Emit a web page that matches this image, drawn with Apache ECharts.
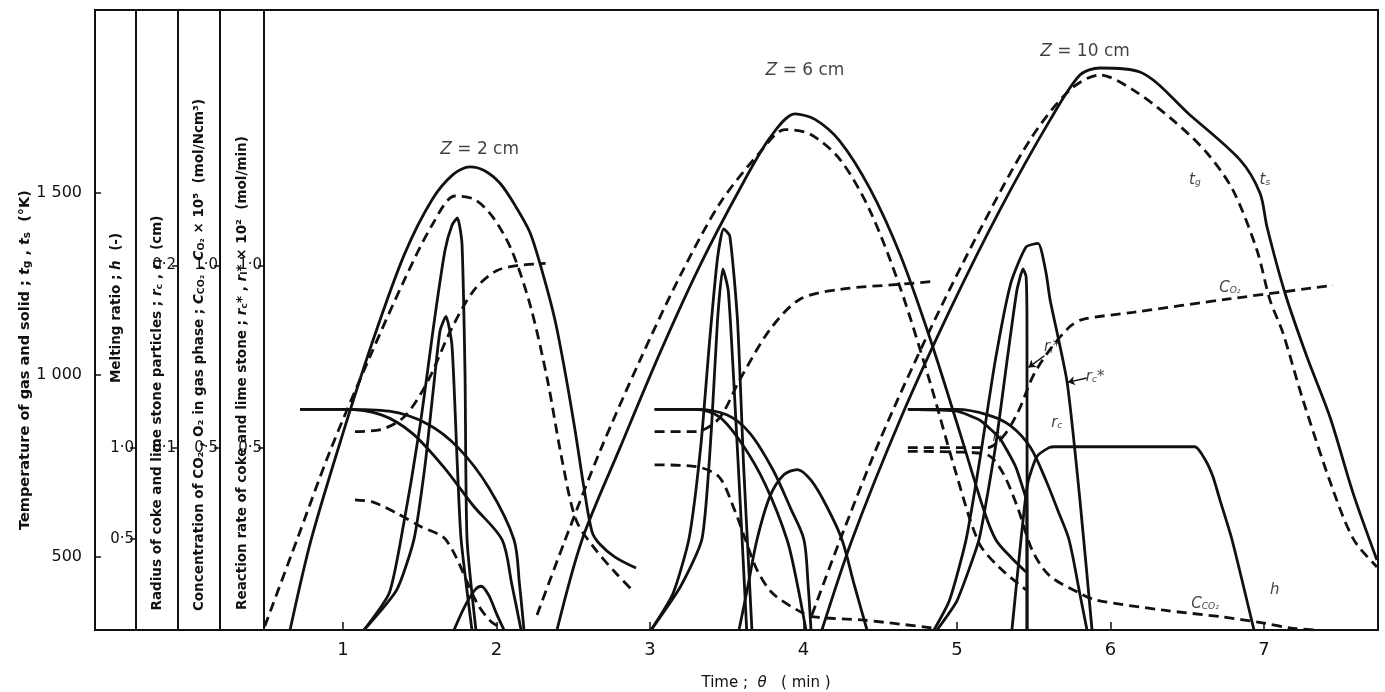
<!DOCTYPE html>
<html>
<head>
<meta charset="utf-8">
<script src="https://cdn.jsdelivr.net/npm/echarts/dist/echarts.min.js"></script>
<style>
html, body { margin: 0; padding: 0; background: #fff; }
#chart { width: 1385px; height: 692px; }
</style>
</head>
<body>
<div id="chart"></div>
<script>
// ticks
var timeTicks = [1, 2, 3, 4, 5, 6, 7];
var tempTicks = [500, 1000, 1500];
var hTicks = [0.5, 1.0];
var rTicks = [0.1, 0.2];
var cTicks = [0.5, 1.0];
var rateTicks = [0.5, 1.0];

// temperature of solid / gas (K), [time min, value]
var ts2 = [[0.655,300],[0.792,547],[1.00,840],[1.20,1100],[1.40,1330],[1.58,1480],[1.72,1550],[1.827,1570],[1.92,1560],[2.023,1525],[2.12,1465],[2.218,1390],[2.30,1280],[2.381,1150],[2.45,1000],[2.511,850],[2.57,690],[2.622,570],[2.674,535],[2.772,500],[2.909,470]];
var tg2 = [[0.49,310],[0.70,547],[0.915,790],[1.176,1050],[1.40,1260],[1.58,1410],[1.73,1490],[1.86,1480],[1.98,1430],[2.10,1340],[2.22,1190],[2.33,990],[2.43,760],[2.52,600],[2.648,519],[2.78,455],[2.896,404]];
var ts6 = [[2.394,300],[2.557,547],[2.805,800],[3.065,1060],[3.326,1300],[3.586,1510],[3.782,1650],[3.945,1715],[4.075,1700],[4.238,1640],[4.433,1510],[4.629,1330],[4.824,1100],[5.020,840],[5.182,620],[5.254,547],[5.35,500],[5.450,459]];
var tg6 = [[2.264,341],[2.440,539],[2.674,790],[2.935,1040],[3.195,1270],[3.456,1470],[3.717,1610],[3.880,1672],[4.042,1660],[4.238,1590],[4.433,1450],[4.629,1240],[4.824,980],[4.987,740],[5.143,539],[5.280,470],[5.450,410]];
var ts10 = [[4.120,300],[4.316,547],[4.629,876],[4.954,1177],[5.280,1452],[5.606,1698],[5.801,1822],[5.932,1841],[6.192,1830],[6.518,1712],[6.844,1589],[6.974,1498],[7.020,1405],[7.137,1224],[7.280,1049],[7.430,884],[7.580,676],[7.736,492]];
var tg10 = [[4.055,341],[4.231,539],[4.498,821],[4.824,1123],[5.150,1397],[5.476,1644],[5.736,1781],[5.932,1822],[6.147,1781],[6.407,1698],[6.629,1608],[6.798,1506],[6.954,1342],[7.039,1205],[7.124,1114],[7.254,931],[7.450,684],[7.586,547],[7.736,473]];

// O2 / CO2 concentration (x10^5 mol/Ncm3)
var cO2_2 = [[1.078,0.544],[1.25,0.55],[1.40,0.585],[1.55,0.68],[1.70,0.82],[1.85,0.93],[2.0,0.985],[2.15,1.0],[2.32,1.005]];
var cCO2_2 = [[1.078,0.357],[1.20,0.35],[1.35,0.32],[1.50,0.285],[1.671,0.247],[1.873,0.074],[1.96,0.025],[2.05,0]];
var cO2_6 = [[3.03,0.544],[3.30,0.544],[3.45,0.58],[3.586,0.687],[3.782,0.824],[3.977,0.907],[4.238,0.934],[4.629,0.948],[4.85,0.956]];
var cCO2_6 = [[3.03,0.453],[3.30,0.448],[3.45,0.42],[3.55,0.33],[3.62,0.25],[3.697,0.165],[3.80,0.10],[3.984,0.049],[4.068,0.036],[4.394,0.027],[4.850,0.005]];
var cO2_10 = [[4.68,0.50],[5.0,0.50],[5.2,0.50],[5.30,0.53],[5.40,0.60],[5.50,0.70],[5.606,0.769],[5.736,0.832],[5.821,0.852],[6.147,0.871],[6.759,0.907],[7.45,0.945]];
var cCO2_10 = [[4.68,0.49],[5.0,0.488],[5.2,0.48],[5.30,0.43],[5.40,0.33],[5.489,0.22],[5.60,0.15],[5.795,0.102],[5.906,0.082],[6.336,0.055],[6.726,0.036],[7.0,0.019],[7.176,0.005],[7.35,0]];

// particle radius (cm)
var rc2 = [[0.72,0.121],[1.0,0.121],[1.3,0.120],[1.55,0.113],[1.75,0.100],[1.95,0.078],[2.114,0.0495],[2.15,0.025],[2.179,0]];
var rl2 = [[0.72,0.121],[1.0,0.121],[1.25,0.118],[1.45,0.108],[1.65,0.090],[1.85,0.068],[2.036,0.0495],[2.10,0.025],[2.16,0]];
var rc6 = [[3.03,0.121],[3.30,0.121],[3.50,0.118],[3.65,0.108],[3.80,0.088],[3.92,0.066],[4.003,0.0495],[4.03,0.025],[4.049,0]];
var rl6 = [[3.03,0.121],[3.30,0.121],[3.45,0.117],[3.60,0.102],[3.75,0.080],[3.893,0.0495],[3.96,0.025],[4.016,0]];
var rc10 = [[4.68,0.121],[5.0,0.121],[5.2,0.118],[5.35,0.112],[5.48,0.100],[5.58,0.082],[5.66,0.065],[5.730,0.0495],[5.80,0.02],[5.847,0]];
var rl10 = [[4.68,0.121],[5.0,0.12],[5.15,0.115],[5.28,0.105],[5.38,0.090],[5.44,0.075],[5.455,0.07],[5.456,0]];

// reaction rate (x10^2 mol/min)
var rcs2 = [[1.137,0],[1.30,0.10],[1.378,0.25],[1.502,0.56],[1.599,0.86],[1.664,1.04],[1.710,1.11],[1.745,1.13],[1.775,1.06],[1.795,0.70],[1.808,0.25],[1.866,0]];
var rls2 = [[1.137,0],[1.35,0.11],[1.463,0.25],[1.534,0.45],[1.586,0.65],[1.632,0.82],[1.671,0.86],[1.710,0.78],[1.745,0.45],[1.769,0.25],[1.840,0]];
var rcs6 = [[3.007,0],[3.15,0.10],[3.254,0.25],[3.33,0.50],[3.39,0.80],[3.44,1.02],[3.48,1.10],[3.52,1.08],[3.57,0.85],[3.61,0.45],[3.64,0.20],[3.664,0]];
var rls6 = [[3.007,0],[3.20,0.12],[3.339,0.25],[3.40,0.55],[3.44,0.85],[3.475,0.99],[3.51,0.93],[3.55,0.65],[3.60,0.25],[3.63,0]];
var rcs10 = [[4.85,0],[4.95,0.08],[5.059,0.247],[5.15,0.47],[5.25,0.74],[5.35,0.95],[5.45,1.05],[5.528,1.06],[5.58,0.98],[5.606,0.907],[5.717,0.681],[5.801,0.357],[5.880,0]];
var rls10 = [[4.87,0],[5.0,0.08],[5.143,0.247],[5.25,0.50],[5.33,0.75],[5.39,0.93],[5.43,0.99],[5.45,0.97],[5.456,0.85],[5.457,0]];

// melting ratio (-)
var h2 = [[1.723,0],[1.80,0.14],[1.86,0.22],[1.90,0.24],[1.95,0.19],[2.00,0.09],[2.049,0]];
var h6 = [[3.580,0],[3.64,0.25],[3.697,0.495],[3.78,0.73],[3.87,0.85],[3.96,0.88],[4.05,0.82],[4.15,0.68],[4.251,0.495],[4.33,0.25],[4.414,0]];
var h10 = [[5.358,0],[5.417,0.495],[5.46,0.80],[5.52,0.95],[5.60,1.0],[5.638,1.005],[6.55,1.005],[6.62,0.93],[6.668,0.84],[6.713,0.714],[6.792,0.495],[6.935,0]];

// text placed on the temperature scale: [time, K, text]
var zLabels = [[1.89,1616,'{z|Z} = 2 cm'],[4.01,1835,'{z|Z} = 6 cm'],[5.834,1885,'{z|Z} = 10 cm']];
var curveLabels = [[6.55,1534,'{i|t}{s|g}'],[7.006,1534,'{i|t}{s|s}'],[6.778,1238,'{i|C}{s|O₂}'],
  [5.90,994,'{i|r}{s|c}{i|*}'],[5.62,1075,'{i|r}{s|l}{i|*}'],[5.26,830,'{i|r}{s|l}'],[5.65,868,'{i|r}{s|c}'],
  [6.616,371,'{i|C}{s|CO₂}'],[7.07,410,'{i|h}']];
var labelArrows = [[[5.845,991],[5.722,979]], [[5.57,1052],[5.466,1020]]];

var INK = '#111';
var FONT = 'DejaVu Sans';

function curve(data, axis, dashed, smooth) {
  return {
    type: 'line', data: data, yAxisIndex: axis, smooth: smooth == null ? 0.3 : smooth, symbol: 'none',
    silent: true, animation: false,
    lineStyle: { color: INK, width: 2.8, type: dashed ? [10, 6] : 'solid' }
  };
}
function dotLabel(v) { return v.toFixed(1).replace('.', '·'); }

function stripAxis(offset, max, ticks) {
  return {
    type: 'value', position: 'left', offset: offset, min: 0, max: max,
    splitLine: { show: false },
    axisLine: { show: true, lineStyle: { color: INK, width: 2 } },
    axisTick: { show: true, customValues: ticks, length: 6, lineStyle: { color: INK, width: 1.5 } },
    axisLabel: { customValues: ticks, color: INK, fontFamily: FONT, fontSize: 15, margin: 2, formatter: dotLabel }
  };
}

var sub = { fontSize: 9, fontFamily: FONT, fontStyle: 'italic', padding: [6, 0, 0, 0] };
var it = { fontStyle: 'italic', fontFamily: FONT, fontSize: 15 };
function rotText(x, y, text, size) {
  return {
    type: 'text', x: x, y: y, rotation: Math.PI / 2, silent: true,
    style: {
      text: text, fill: INK, font: 'bold ' + size + 'px "DejaVu Sans"', align: 'center', verticalAlign: 'middle',
      rich: {
        i: { fontStyle: 'italic', fontWeight: 'bold', fontSize: size, fontFamily: FONT },
        s: { fontSize: size - 4, fontWeight: 'bold', fontFamily: FONT, padding: [5, 0, 0, 0] }
      }
    }
  };
}

var chart = echarts.init(document.getElementById('chart'));
chart.setOption({
  backgroundColor: '#fff',
  animation: false,
  grid: { left: 264, right: 7, top: 10, bottom: 62 },
  xAxis: {
    type: 'value', min: 0.4853, max: 7.743,
    splitLine: { show: false },
    axisLine: { lineStyle: { color: INK, width: 2 } },
    axisTick: { customValues: timeTicks, inside: true, length: 8, lineStyle: { color: INK, width: 1.5 } },
    axisLabel: { customValues: timeTicks, color: INK, fontFamily: FONT, fontSize: 18, margin: 11 }
  },
  yAxis: [
    {
      type: 'value', position: 'left', offset: 169, min: 300, max: 2000,
      splitLine: { show: false },
      axisLine: { show: true, lineStyle: { color: INK, width: 2 } },
      axisTick: { show: true, customValues: tempTicks, inside: true, length: 6, lineStyle: { color: INK, width: 1.5 } },
      axisLabel: { customValues: tempTicks, color: INK, fontFamily: FONT, fontSize: 16, margin: 13,
        formatter: function (v) { return v >= 1000 ? String(v).charAt(0) + ' ' + String(v).slice(1) : String(v); } }
    },
    stripAxis(128, 3.4, hTicks),
    stripAxis(86, 0.34, rTicks),
    stripAxis(44, 1.7, cTicks),
    stripAxis(0, 1.7, rateTicks)
  ],
  graphic: [
    { type: 'rect', shape: { x: 95, y: 10, width: 1283, height: 620 }, style: { fill: 'none', stroke: INK, lineWidth: 2 }, silent: true },
    rotText(25, 360, 'Temperature of gas and solid ; {i|t}{s|g} , {i|t}{s|s}  (°K)', 14.5),
    rotText(116, 308, 'Melting ratio ; {i|h}  (-)', 13.5),
    rotText(157, 413, 'Radius of coke and lime stone particles ; {i|r}{s|c} , {i|r}{s|l}  (cm)', 13.5),
    rotText(199, 355, 'Concentration of CO₂ , O₂ in gas phase ; {i|C}{s|CO₂} , {i|C}{s|O₂} × 10⁵  (mol/Ncm³)', 13.5),
    rotText(242, 373, 'Reaction rate of coke and lime stone ; {i|r}{s|c}* , {i|r}{s|l}* × 10²  (mol/min)', 13.5),
    { type: 'text', x: 766, y: 683, silent: true, style: { text: 'Time ;  {i|θ}   ( min )', fill: INK, font: '15px "DejaVu Sans"', align: 'center', verticalAlign: 'middle', rich: { i: { fontStyle: 'italic', fontSize: 15, fontFamily: FONT } } } }
  ],
  series: [
    curve(ts2, 0, false), curve(tg2, 0, true), curve(ts6, 0, false), curve(tg6, 0, true),
    curve(ts10, 0, false), curve(tg10, 0, true),
    curve(cO2_2, 3, true), curve(cCO2_2, 3, true), curve(cO2_6, 3, true), curve(cCO2_6, 3, true),
    curve(cO2_10, 3, true), curve(cCO2_10, 3, true),
    curve(rc2, 2, false), curve(rl2, 2, false), curve(rc6, 2, false), curve(rl6, 2, false),
    curve(rc10, 2, false), curve(rl10, 2, false, 0.15),
    curve(rcs2, 4, false, 0.2), curve(rls2, 4, false, 0.2), curve(rcs6, 4, false, 0.2), curve(rls6, 4, false, 0.2),
    curve(rcs10, 4, false, 0.2), curve(rls10, 4, false, 0.15),
    curve(h2, 1, false), curve(h6, 1, false), curve(h10, 1, false, 0.2),
    {
      type: 'lines', coordinateSystem: 'cartesian2d', yAxisIndex: 0, silent: true,
      symbol: ['none', 'arrow'], symbolSize: 7,
      lineStyle: { color: INK, width: 1.5, opacity: 1 },
      data: labelArrows.map(function (c) { return { coords: c }; })
    },
    {
      type: 'scatter', yAxisIndex: 0, symbolSize: 0, silent: true, data: zLabels,
      label: { show: true, position: 'inside', color: INK, fontFamily: FONT, fontSize: 17,
        formatter: function (p) { return p.data[2]; },
        rich: { z: { fontStyle: 'italic', fontSize: 17, fontFamily: FONT } } }
    },
    {
      type: 'scatter', yAxisIndex: 0, symbolSize: 0, silent: true, data: curveLabels,
      label: { show: true, position: 'inside', color: INK, fontFamily: FONT, fontSize: 15, fontStyle: 'italic',
        formatter: function (p) { return p.data[2]; },
        rich: { i: it, s: sub } }
    }
  ]
});
</script>
</body>
</html>
